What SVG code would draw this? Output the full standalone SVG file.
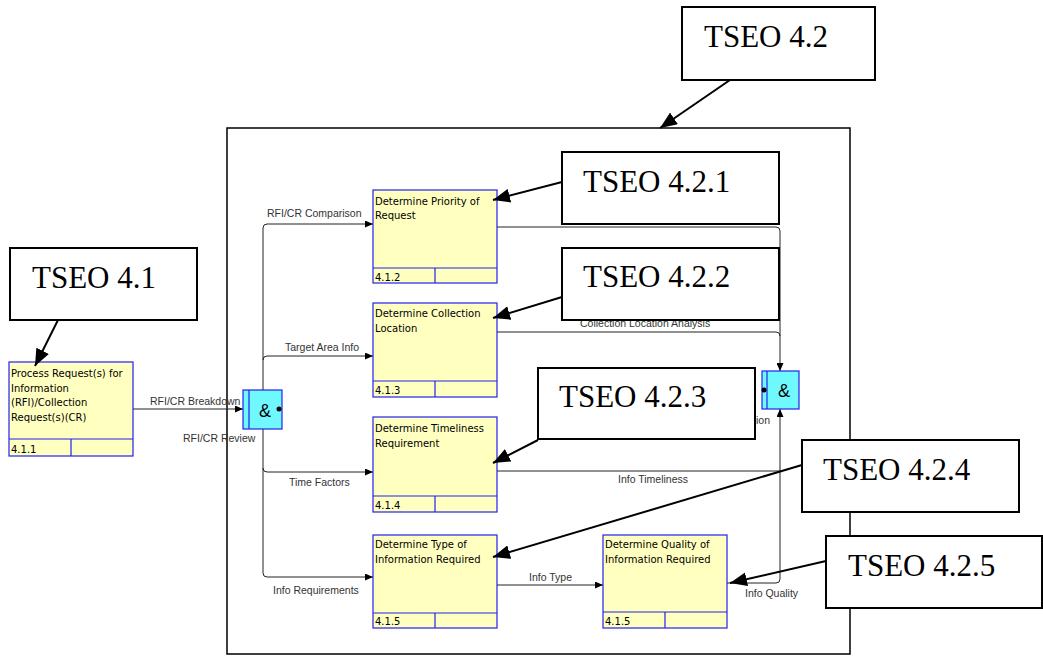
<svg xmlns="http://www.w3.org/2000/svg" width="1043" height="656" viewBox="0 0 1043 656">
<defs>
<style>
.frame{fill:none;stroke:#000;stroke-width:1.5}
.act{fill:#ffffc0;stroke:#2222ee;stroke-width:1.2}
.div{stroke:#2222ee;stroke-width:1.2;fill:none}
.atext{font-family:"DejaVu Sans",sans-serif;font-size:10px;fill:#000}
.conn{fill:none;stroke:#222;stroke-width:1}
.lbl{font-family:"Liberation Sans",Arial,sans-serif;font-size:10.5px;fill:#333}
.junc{fill:#70f8ff;stroke:#2222ee;stroke-width:1.2}
.amp{font-family:"Liberation Sans",Arial,sans-serif;font-size:18px;fill:#000;text-anchor:middle}
.tseo{fill:#fff;stroke:#000;stroke-width:2}
.ttext{font-family:"Liberation Serif","Times New Roman",serif;font-size:31px;fill:#000}
.call{stroke:#000;stroke-width:2;fill:none}
</style>
<marker id="sa" markerWidth="8" markerHeight="7" refX="8" refY="3.5" orient="auto" markerUnits="userSpaceOnUse"><path d="M0,0 L8,3.5 L0,7 z" fill="#000"/></marker>
<marker id="ba" markerWidth="18" markerHeight="14" refX="17" refY="7" orient="auto" markerUnits="userSpaceOnUse"><path d="M0,0 L17,7 L0,14 z" fill="#000"/></marker>
</defs>
<rect width="1043" height="656" fill="#fff"/>
<rect id="frame" class="frame" x="227" y="128" width="623" height="526"/>

<g id="connectors">
<path class="conn" d="M133,409 H243" marker-end="url(#sa)"/>
<path class="conn" d="M263,228 V573 Q263,577 267,577 H373" marker-end="url(#sa)"/>
<path class="conn" d="M263,228 Q263,224 267,224 H373" marker-end="url(#sa)"/>
<path class="conn" d="M263,360 Q263,356 267,356 H373" marker-end="url(#sa)"/>
<path class="conn" d="M263,468 Q263,472 267,472 H373" marker-end="url(#sa)"/>
<path class="conn" d="M497,227 H776 Q780,227 780,231 V371" marker-end="url(#sa)"/>
<path class="conn" d="M497,332 H776 Q780,332 780,336"/>
<path class="conn" d="M497,471 H780"/>
<path class="conn" d="M727,583 H776 Q780,583 780,579 V409" marker-end="url(#sa)"/>
<path class="conn" d="M497,585 H603" marker-end="url(#sa)"/>
<text class="lbl" x="150" y="405">RFI/CR Breakdown</text>
<text class="lbl" x="183" y="442">RFI/CR Review</text>
<text class="lbl" x="267" y="217">RFI/CR Comparison</text>
<text class="lbl" x="285" y="351">Target Area Info</text>
<text class="lbl" x="289" y="486">Time Factors</text>
<text class="lbl" x="273" y="594">Info Requirements</text>
<text class="lbl" x="529" y="581">Info Type</text>
<text class="lbl" x="745" y="597">Info Quality</text>
<text class="lbl" x="618" y="483">Info Timeliness</text>
<text class="lbl" x="580" y="327">Collection Location Analysis</text>
<text class="lbl" x="770" y="424" text-anchor="end">tion</text>
</g>

<g id="node-411">
<rect class="act" x="9" y="362" width="124" height="94"/>
<path class="div" d="M9,439 H133 M71,439 V456"/>
<text class="atext" x="11" y="377">Process Request(s) for</text>
<text class="atext" x="11" y="391.5">Information</text>
<text class="atext" x="11" y="406">(RFI)/Collection</text>
<text class="atext" x="11" y="420.5">Request(s)(CR)</text>
<text class="atext" x="11" y="453">4.1.1</text>
</g>

<g id="node-412">
<rect class="act" x="373" y="190" width="124" height="93"/>
<path class="div" d="M373,268 H497 M435,268 V283"/>
<text class="atext" x="375" y="205">Determine Priority of</text>
<text class="atext" x="375" y="219">Request</text>
<text class="atext" x="375" y="281">4.1.2</text>
</g>

<g id="node-413">
<rect class="act" x="373" y="303" width="124" height="94"/>
<path class="div" d="M373,381 H497 M435,381 V397"/>
<text class="atext" x="375" y="317">Determine Collection</text>
<text class="atext" x="375" y="332">Location</text>
<text class="atext" x="375" y="394">4.1.3</text>
</g>

<g id="node-414">
<rect class="act" x="373" y="417" width="124" height="95"/>
<path class="div" d="M373,496 H497 M435,496 V512"/>
<text class="atext" x="375" y="432">Determine Timeliness</text>
<text class="atext" x="375" y="447">Requirement</text>
<text class="atext" x="375" y="509">4.1.4</text>
</g>

<g id="node-415a">
<rect class="act" x="373" y="535" width="124" height="93"/>
<path class="div" d="M373,613 H497 M435,613 V628"/>
<text class="atext" x="375" y="548">Determine Type of</text>
<text class="atext" x="375" y="563">Information Required</text>
<text class="atext" x="375" y="625">4.1.5</text>
</g>

<g id="node-415b">
<rect class="act" x="603" y="535" width="124" height="93"/>
<path class="div" d="M603,612 H727 M665,612 V628"/>
<text class="atext" x="605" y="548">Determine Quality of</text>
<text class="atext" x="605" y="563">Information Required</text>
<text class="atext" x="605" y="625">4.1.5</text>
</g>

<g id="junction-1">
<rect class="junc" x="243" y="390" width="39" height="39"/>
<path class="div" d="M249,390 V429"/>
<text class="amp" x="265" y="417">&amp;</text>
<circle cx="279" cy="409" r="2.5" fill="#000"/>
</g>

<g id="junction-2">
<rect class="junc" x="762" y="371" width="37" height="38"/>
<path class="div" d="M767,371 V409"/>
<text class="amp" x="784" y="397">&amp;</text>
<circle cx="764" cy="390" r="2.5" fill="#000"/>
</g>

<g id="tseo-42"><rect class="tseo" x="682" y="7" width="193" height="73"/><text class="ttext" x="704" y="47">TSEO 4.2</text></g>
<g id="tseo-41"><rect class="tseo" x="10" y="248" width="187" height="72"/><text class="ttext" x="32" y="288">TSEO 4.1</text></g>
<g id="tseo-421"><rect class="tseo" x="562" y="152" width="217" height="72"/><text class="ttext" x="583" y="192">TSEO 4.2.1</text></g>
<g id="tseo-422"><rect class="tseo" x="562" y="248" width="217" height="72"/><text class="ttext" x="583" y="287">TSEO 4.2.2</text></g>
<g id="tseo-423"><rect class="tseo" x="538" y="368" width="217" height="71"/><text class="ttext" x="559" y="407">TSEO 4.2.3</text></g>
<g id="tseo-424"><rect class="tseo" x="802" y="440" width="217" height="72"/><text class="ttext" x="823" y="480">TSEO 4.2.4</text></g>
<g id="tseo-425"><rect class="tseo" x="826" y="536" width="216" height="72"/><text class="ttext" x="848" y="576">TSEO 4.2.5</text></g>

<g id="callouts">
<line class="call" x1="730" y1="80" x2="660" y2="128" marker-end="url(#ba)"/>
<line class="call" x1="58" y1="320" x2="35" y2="366" marker-end="url(#ba)"/>
<line class="call" x1="562" y1="182" x2="493" y2="200" marker-end="url(#ba)"/>
<line class="call" x1="562" y1="297" x2="493" y2="318" marker-end="url(#ba)"/>
<line class="call" x1="538" y1="440" x2="493" y2="463" marker-end="url(#ba)"/>
<line class="call" x1="802" y1="465" x2="493" y2="557" marker-end="url(#ba)"/>
<line class="call" x1="826" y1="561" x2="730" y2="583" marker-end="url(#ba)"/>
</g>
</svg>
